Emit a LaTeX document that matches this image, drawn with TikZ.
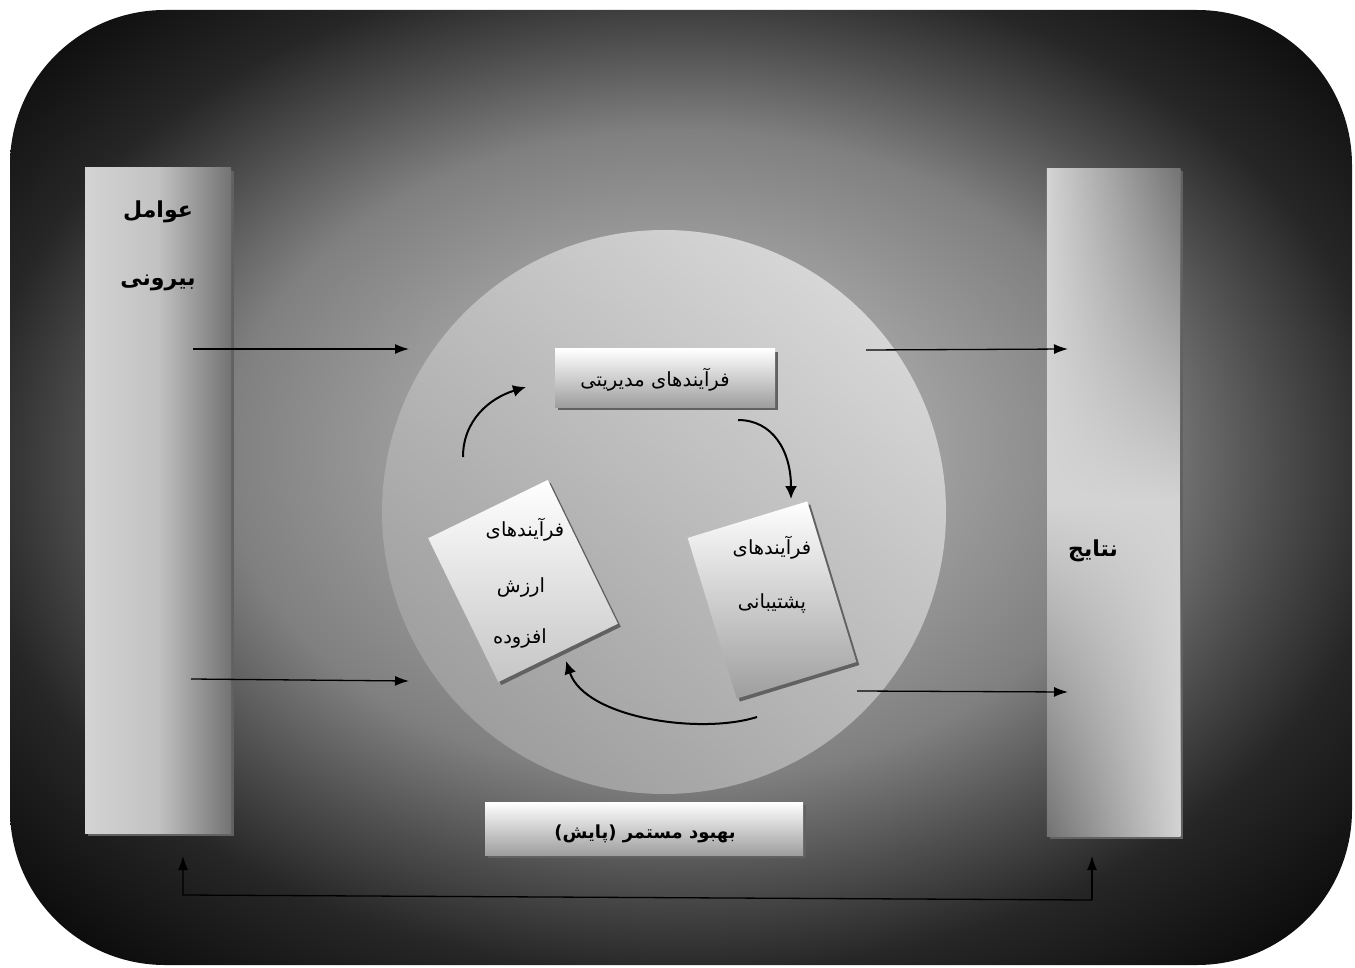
\documentclass[tikz,border=0pt]{standalone}
\usepackage{fontspec}
\usetikzlibrary{arrows.meta,fadings,shadows}
\TeXXeTstate=1
\newfontfamily\fa[Script=Arabic]{DejaVu Sans}
\definecolor{g0}{gray}{0.72}
\definecolor{g1}{gray}{0.63}
\definecolor{g2}{gray}{0.5}
\definecolor{g3}{gray}{0.31}
\definecolor{g4}{gray}{0.15}
\definecolor{g5}{gray}{0.05}
\definecolor{barlight}{gray}{0.83}
\definecolor{barmid}{gray}{0.76}
\definecolor{bardark}{gray}{0.45}
\definecolor{circlight}{gray}{0.84}
\definecolor{circdark}{gray}{0.62}
\definecolor{boxdark}{gray}{0.62}
\definecolor{shadowc}{gray}{0.38}
\pgfdeclareradialshading{bgshade}{\pgfpoint{0bp}{3bp}}{color(0bp)=(g0); color(9bp)=(g1); color(17bp)=(g2); color(22bp)=(g3); color(26.5bp)=(g4); color(33bp)=(g5); color(40bp)=(g5)}
\tikzfading[name=ftop, top color=transparent!0, bottom color=transparent!100, middle color=transparent!100]
\tikzfading[name=fbot, top color=transparent!100, bottom color=transparent!0, middle color=transparent!100]
\begin{document}
\begin{tikzpicture}[x=1pt,y=-1pt,
  lbl/.style={font=\fa\fontsize{19.5}{23}\selectfont, inner sep=0},
  blbl/.style={font=\fa\bfseries\fontsize{22}{26}\selectfont, inner sep=0},
  arr/.style={-{Latex[length=14pt,width=10pt]}, line width=1.3pt},
  carr/.style={-{Latex[length=13pt,width=12pt]}, line width=2pt},
  shad/.style={drop shadow={shadow xshift=3pt, shadow yshift=-3pt, fill=shadowc, opacity=1}},
  barbox/.style={rectangle, inner sep=0, draw=none, shad},
  procbox/.style={rectangle, inner sep=0, draw=none, shad, top color=white, bottom color=boxdark},
]
\useasboundingbox (0,0) rectangle (1355,968);
\path[shading=bgshade, rounded corners=155pt] (10,10) rectangle (1352,965);

% side bars
\node[barbox, minimum width=146pt, minimum height=665pt, left color=barlight, right color=bardark, middle color=barmid] (ext) at (158,500.5) {};
\node[barbox, minimum width=133pt, minimum height=668pt, fill=barlight] (res) at (1113.5,502) {};
\shade[left color=barlight, right color=bardark, path fading=ftop] (res.north west) rectangle (res.south east);
\shade[left color=bardark, right color=barlight, path fading=fbot] (res.north west) rectangle (res.south east);

% circle
\node[circle, minimum size=564pt, inner sep=0, draw=none, top color=circlight, bottom color=circdark, shading angle=-40] (circ) at (664,512) {};

% process boxes
\node[procbox, minimum width=220pt, minimum height=58pt] (mgmt) at (665,378) {};
\node[procbox, minimum width=133pt, minimum height=160pt, rotate=26, bottom color=gray!45!white] (va) at (523,581) {};
\node[procbox, minimum width=125pt, minimum height=168pt, rotate=17] (sup) at (772,600) {};
\node[procbox, minimum width=318pt, minimum height=53pt] (imp) at (644,828.5) {};

% labels
\node[blbl] (t1) at (158,212) {\beginR عوامل\endR};
\node[blbl] (t2) at (158,283) {\beginR بیرونی\endR};
\node[blbl] (t3) at (1093,551) {\beginR نتایج\endR};
\node[lbl] (t4) at (655,380) {\beginR فرآیندهای مدیریتی\endR};
\node[lbl] (t5) at (525,530) {\beginR فرآیندهای\endR};
\node[lbl] (t6) at (521,587) {\beginR ارزش\endR};
\node[lbl] (t7) at (520,638) {\beginR افزوده\endR};
\node[lbl] (t8) at (772,548) {\beginR فرآیندهای\endR};
\node[lbl] (t9) at (772,603) {\beginR پشتیبانی\endR};
\node[blbl, font=\fa\bfseries\fontsize{18}{22}\selectfont] (t10) at (645,834) {\beginR بهبود مستمر (پایش)\endR};

% straight arrows
\coordinate (a1s) at (193,349); \coordinate (a1e) at (409,349);
\coordinate (a2s) at (191,679); \coordinate (a2e) at (409,681);
\coordinate (a3s) at (866,350); \coordinate (a3e) at (1068,349);
\coordinate (a4s) at (857,691); \coordinate (a4e) at (1068,692);
\draw[arr] (a1s) -- (a1e);
\draw[arr] (a2s) -- (a2e);
\draw[arr] (a3s) -- (a3e);
\draw[arr] (a4s) -- (a4e);

% feedback loop
\coordinate (fbR) at (1092,900);
\coordinate (fbL) at (183,895);
\coordinate (resTip) at (1092,856);
\coordinate (extTip) at (183,856);
\draw[arr] (fbR) -- (resTip);
\draw[arr] (fbR) -- (fbL) -- (extTip);

% cycle arrows
\coordinate (c1s) at (463,457); \coordinate (c1e) at (526,387);
\coordinate (c2s) at (738,420); \coordinate (c2e) at (791,499);
\coordinate (c3s) at (757,717); \coordinate (c3e) at (566,661);
\draw[carr] (c1s) .. controls (463,420) and (490,398) .. (c1e);
\draw[carr] (c2s) .. controls (772,420) and (791,450) .. (c2e);
\draw[carr] (c3s) .. controls (700,735) and (585,718) .. (c3e);
\end{tikzpicture}
\end{document}
